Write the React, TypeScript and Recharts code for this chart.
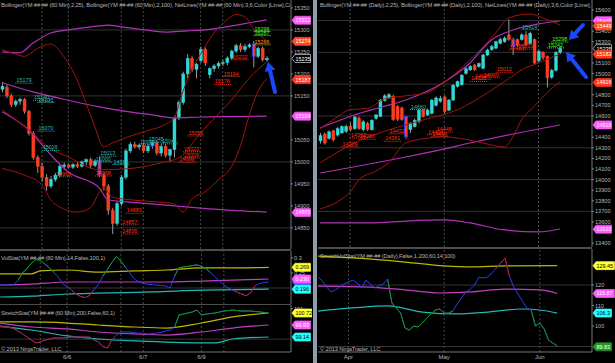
import React from 'react';
import { ComposedChart, Bar, Line, XAxis, YAxis, ReferenceLine, ReferenceDot } from 'recharts';

// ---------- 60 min chart (left) ----------
const hourOpen = [15165, 15170, 15150, 15130, 15138, 15142, 15115, 15065, 15010, 14990, 14965, 14945, 14960, 14970, 14990, 14993, 14988, 14994, 14990, 15000, 15005, 14992, 15002, 14970, 14945, 14890, 14860, 14905, 14965, 15025, 15040, 15034, 15038, 15025, 15036, 15045, 15020, 15035, 15015, 15028, 15100, 15135, 15200, 15235, 15210, 15230, 15256, 15198, 15212, 15218, 15224, 15226, 15236, 15252, 15264, 15255, 15262, 15268, 15240, 15258, 15232];
const hourHigh = [15182, 15175, 15155, 15142, 15146, 15145, 15118, 15070, 15015, 14998, 14972, 14968, 14975, 14995, 14998, 14996, 14997, 14999, 15003, 15008, 15010, 15006, 15010, 14975, 14950, 14895, 14910, 14970, 15030, 15045, 15046, 15042, 15044, 15040, 15048, 15048, 15040, 15040, 15030, 15105, 15140, 15205, 15245, 15240, 15225, 15262, 15260, 15215, 15222, 15228, 15232, 15240, 15255, 15268, 15270, 15268, 15270, 15275, 15262, 15262, 15240];
const hourLow = [15158, 15145, 15125, 15125, 15130, 15110, 15060, 15005, 14975, 14955, 14935, 14940, 14955, 14965, 14982, 14985, 14984, 14986, 14987, 14993, 14985, 14988, 14965, 14935, 14880, 14836, 14855, 14900, 14960, 15020, 15030, 15028, 15020, 15020, 15030, 15015, 15012, 15010, 15000, 15010, 15095, 15130, 15190, 15205, 15190, 15225, 15218, 15190, 15205, 15212, 15218, 15220, 15232, 15248, 15250, 15250, 15258, 15215, 15236, 15228, 15228];
const hourClose = [15172, 15150, 15130, 15138, 15142, 15115, 15065, 15010, 14990, 14965, 14945, 14960, 14970, 14990, 14993, 14988, 14994, 14990, 15000, 15005, 14992, 15002, 14970, 14945, 14890, 14860, 14905, 14965, 15025, 15040, 15034, 15038, 15025, 15036, 15045, 15020, 15035, 15015, 15028, 15100, 15135, 15200, 15235, 15210, 15222, 15256, 15225, 15212, 15218, 15224, 15226, 15236, 15252, 15264, 15255, 15262, 15266, 15240, 15258, 15232, 15235];
const hourBlueEdge = [22, 34, 57];

// Bollinger(2,25) red and Bollinger(2,100) magenta, as [bar, value]
const hourUpper25: [number, number][] = [[0, 15255], [3, 15245], [5, 15240], [8, 15258], [11, 15268], [14, 15239], [17, 15186], [19, 15134], [21, 15080], [23, 15034], [25, 15043], [28, 15055], [33, 15071], [37, 15085], [39, 15100], [41, 15160], [43, 15210], [45, 15245], [48, 15293], [51, 15323], [53, 15335], [55, 15330], [57, 15303], [60, 15275]];
const hourMid25: [number, number][] = [[0, 15118], [6, 15073], [11, 15030], [15, 15011], [22, 14982], [30, 14986], [36, 14998], [40, 15009], [45, 15066], [52, 15141], [56, 15190], [60, 15228]];
const hourLower25: [number, number][] = [[0, 14985], [5, 14970], [9, 14948], [11, 14914], [14, 14893], [17, 14886], [20, 14896], [22, 14930], [23, 14941], [25, 14920], [29, 14914], [35, 14909], [39, 14905], [41, 14886], [43, 14915], [46, 14932], [49, 14959], [52, 14989], [54, 15035], [56, 15105], [58, 15160], [60, 15189]];
const hourUpper100: [number, number][] = [[0, 15250], [4, 15248], [7, 15270], [11, 15293], [15, 15300], [22, 15309], [24, 15311], [27, 15307], [34, 15298], [37, 15295], [42, 15298], [46, 15300], [52, 15309], [57, 15318], [60, 15323]];
const hourMid100: [number, number][] = [[0, 15180], [7, 15159], [15, 15140], [22, 15125], [30, 15112], [34, 15107], [39, 15100], [45, 15102], [52, 15103], [60, 15104]];
const hourLower100: [number, number][] = [[0, 15114], [6, 15073], [11, 15016], [15, 14977], [22, 14941], [24, 14914], [31, 14907], [38, 14901], [45, 14895], [52, 14890], [60, 14886]];

// VolStat
const hourVol = [0.210, 0.211, 0.210, 0.210, 0.225, 0.250, 0.265, 0.282, 0.295, 0.292, 0.280, 0.268, 0.252, 0.237, 0.215, 0.205, 0.193, 0.180, 0.172, 0.168, 0.175, 0.195, 0.212, 0.240, 0.262, 0.285, 0.305, 0.290, 0.270, 0.250, 0.230, 0.220, 0.215, 0.213, 0.211, 0.210, 0.208, 0.207, 0.200, 0.240, 0.268, 0.270, 0.272, 0.275, 0.277, 0.273, 0.265, 0.252, 0.238, 0.222, 0.210, 0.200, 0.193, 0.186, 0.180, 0.174, 0.185, 0.208, 0.215, 0.218, 0.220];
const hourVolGreen = [[4, 12], [23, 28], [39, 47]];
const hourVolRed = [[16, 21], [52, 57]];
const hourVolYellow: [number, number][] = [[0, 0.247], [7, 0.247], [9, 0.257], [15, 0.260], [22, 0.253], [30, 0.257], [37, 0.260], [45, 0.267], [52, 0.267], [60, 0.269]];
const hourVolMagenta: [number, number][] = [[0, 0.210], [7, 0.213], [15, 0.220], [30, 0.220], [37, 0.220], [45, 0.223], [52, 0.226], [60, 0.230]];
const hourVolCyan: [number, number][] = [[0, 0.170], [7, 0.173], [15, 0.180], [22, 0.183], [34, 0.187], [45, 0.193], [60, 0.196]];

// StretchStat
const hourStretch = [99.82, 99.80, 99.78, 99.70, 99.54, 99.35, 99.14, 98.95, 98.75, 98.81, 98.94, 99.00, 99.08, 99.08, 99.08, 99.10, 99.14, 99.14, 99.14, 99.14, 99.14, 98.94, 98.81, 98.50, 98.42, 98.94, 99.27, 99.47, 99.47, 99.47, 99.42, 99.40, 99.38, 99.34, 99.36, 99.40, 99.45, 99.54, 99.60, 99.80, 100.59, 100.65, 100.72, 100.79, 100.92, 100.59, 100.65, 100.68, 100.72, 100.78, 100.85, 100.88, 100.92, 100.88, 100.85, 100.85, 100.85, 100.82, 100.79, 100.75, 100.72];
const hourStretchGreen = [[39, 60]];
const hourStretchRed = [[0, 25]];
const hourStrYellow: [number, number][] = [[0, 100.13], [7, 100.13], [15, 100.06], [22, 99.93], [30, 99.80], [37, 99.73], [45, 100.06], [52, 100.46], [60, 100.72]];
const hourStrMagenta: [number, number][] = [[0, 100.06], [7, 99.80], [15, 99.67], [22, 99.47], [30, 99.34], [37, 99.27], [45, 99.47], [52, 99.73], [60, 99.93]];
const hourStrCyan: [number, number][] = [[0, 99.86], [7, 99.60], [15, 99.21], [22, 99.01], [30, 98.88], [37, 98.81], [48, 98.75], [52, 99.01], [60, 99.14]];

const hourNetLines = [
  { i: 3, t: '15179', k: 't' }, { i: 7, t: '15140', k: 't' }, { i: 8, t: '15135', k: 't' }, { i: 8, t: '15070', k: 't' },
  { i: 9, t: '15026', k: 't' }, { i: 12, t: '14966', k: 'r' }, { i: 22, t: '15013', k: 't' }, { i: 21, t: '15000', k: 't' },
  { i: 25, t: '14994', k: 't' }, { i: 21, t: '14968', k: 'r' }, { i: 28, t: '14883', k: 'r' }, { i: 27, t: '14857', k: 'r' },
  { i: 27, t: '14836', k: 'r' }, { i: 31, t: '15039', k: 't' }, { i: 33, t: '15045', k: 't' }, { i: 36, t: '15041', k: 't' },
  { i: 42, t: '15059', k: 'r' }, { i: 41, t: '15023', k: 'r' }, { i: 41, t: '15009', k: 'r' }, { i: 40, t: '14999', k: 'r' },
  { i: 48, t: '15176', k: 'r' }, { i: 50, t: '15194', k: 'r' }, { i: 52, t: '15232', k: 'r' },
  { i: 57, t: '15296', k: 'g' }, { i: 57, t: '15287', k: 'g' }, { i: 57, t: '15266', k: 'o' },
];

const hourPriceTicks = [14850, 14900, 14950, 15000, 15050, 15100, 15150, 15200, 15250, 15300, 15350];
const hourPriceGrid = [14850, 15000, 15150, 15300];
const hourVolTicks = [0.3, 0.25, 0.2];
const hourStrTicks = [101, 100, 99];
const hourTickIdx = [15, 32, 45];
const hourTickText = ['6/6', '6/7', '6/9'];
const hourGridIdx = [9, 15, 27, 32, 45, 50];

const hourPriceTags = [
  { text: '15322', bg: '#ff5cff', fg: '#fff0ff' },
  { text: '15274', bg: '#ff4a2a', fg: '#ffffff' },
  { text: '15235', bg: '#000000', fg: '#ffffff', edge: '#d8d8d8' },
  { text: '15187', bg: '#ff3a1a', fg: '#ffffff' },
  { text: '15104', bg: '#ff5cff', fg: '#fff0ff' },
  { text: '14885', bg: '#ff5cff', fg: '#fff0ff' },
];
const hourVolTags = [
  { text: '0.269', bg: '#ffff33', fg: '#000000' },
  { text: '0.222', bg: '#3355ff', fg: '#ffffff' },
  { text: '0.230', bg: '#ff5cff', fg: '#ffffff' },
  { text: '0.196', bg: '#22ffff', fg: '#000000' },
];
const hourStrTags = [
  { text: '100.72', bg: '#ffff33', fg: '#000000' },
  { text: '99.93', bg: '#ff5cff', fg: '#ffffff' },
  { text: '99.14', bg: '#22ffff', fg: '#000000' },
];

// ---------- Daily chart (right) ----------
const dayOpen = [14365, 14430, 14390, 14460, 14420, 14440, 14455, 14505, 14480, 14580, 14470, 14530, 14470, 14578, 14595, 14745, 14770, 14785, 14690, 14675, 14595, 14470, 14500, 14545, 14655, 14610, 14625, 14700, 14740, 14780, 14655, 14750, 14880, 14895, 15000, 15035, 15080, 15065, 15050, 15175, 15225, 15240, 15285, 15300, 15365, 15320, 15320, 15320, 15365, 15285, 15320, 15120, 15200, 15160, 14965, 15030, 15200];
const dayHigh = [14440, 14445, 14465, 14470, 14495, 14510, 14520, 14540, 14600, 14595, 14560, 14545, 14570, 14620, 14760, 14805, 14815, 14800, 14700, 14690, 14600, 14545, 14575, 14670, 14665, 14670, 14760, 14785, 14790, 14795, 14760, 14900, 14935, 14995, 15060, 15080, 15090, 15105, 15185, 15235, 15270, 15310, 15340, 15350, 15510, 15340, 15330, 15380, 15400, 15395, 15330, 15225, 15210, 15170, 15045, 15210, 15250];
const dayLow = [14340, 14330, 14375, 14360, 14405, 14430, 14440, 14455, 14470, 14470, 14455, 14460, 14460, 14565, 14590, 14735, 14760, 14555, 14555, 14555, 14385, 14440, 14490, 14530, 14585, 14600, 14615, 14690, 14725, 14625, 14645, 14740, 14870, 14885, 14990, 15025, 15025, 15055, 15040, 15165, 15215, 15230, 15275, 15290, 15310, 15175, 15250, 15310, 15260, 15275, 15090, 15100, 15130, 14870, 14950, 15020, 15185];
const dayClose = [14415, 14345, 14450, 14375, 14480, 14500, 14500, 14470, 14590, 14480, 14545, 14470, 14560, 14610, 14750, 14790, 14800, 14565, 14570, 14565, 14405, 14530, 14560, 14655, 14595, 14655, 14750, 14770, 14765, 14640, 14750, 14890, 14925, 14985, 15045, 15065, 15035, 15095, 15175, 15222, 15255, 15300, 15320, 15335, 15320, 15255, 15270, 15365, 15270, 15380, 15100, 15210, 15150, 14960, 15030, 15200, 15235];
const dayBlueEdge = [20, 45];

const dayUpper25: [number, number][] = [[0, 14480], [4, 14590], [7, 14660], [11, 14670], [15, 14760], [20, 14790], [25, 14820], [29, 14920], [35, 15128], [41, 15383], [44, 15525], [49, 15562], [52, 15525], [56, 15458]];
const dayMid25: [number, number][] = [[0, 14157], [8, 14345], [16, 14468], [24, 14562], [32, 14657], [39, 14817], [44, 14950], [47, 15034], [51, 15100], [56, 15185]];
const dayLower25: [number, number][] = [[0, 13723], [4, 13789], [7, 13883], [9, 13996], [13, 14080], [16, 14157], [20, 14345], [25, 14390], [29, 14402], [34, 14380], [38, 14345], [43, 14308], [45, 14400], [47, 14560], [50, 14690], [53, 14820], [56, 14921]];
const dayUpper100: [number, number][] = [[0, 14487], [8, 14609], [14, 14680], [20, 14751], [29, 14921], [35, 15100], [40, 15317], [45, 15411], [51, 15468], [56, 15496]];
const dayMid100: [number, number][] = [[0, 14062], [10, 14135], [20, 14213], [28, 14280], [35, 14345], [45, 14430], [56, 14515]];
const dayLower100: [number, number][] = [[0, 13591], [12, 13591], [20, 13609], [29, 13619], [35, 13591], [43, 13525], [51, 13506], [56, 13534]];

// StretchVolStat
const dayStat = [123.9, 122.0, 119.0, 116.6, 117.6, 119.0, 120.5, 121.5, 122.4, 121.0, 118.5, 122.4, 120.5, 118.5, 119.5, 120.5, 122.9, 111.2, 108.8, 106.3, 99.0, 98.0, 100.0, 99.5, 101.5, 103.9, 105.9, 107.8, 108.3, 106.3, 106.3, 107.3, 110.7, 113.7, 116.6, 118.0, 120.0, 123.9, 123.4, 123.9, 125.9, 128.3, 130.7, 133.2, 124.4, 119.0, 115.6, 112.2, 108.8, 107.8, 100.0, 101.5, 98.5, 93.2, 91.7, 90.2];
const dayStatGreen = [[16, 31], [49, 55]];
const dayStatRed = [[41, 44]];
const dayStatYellow: [number, number][] = [[0, 134.1], [8, 133.2], [20, 131.2], [29, 129.3], [35, 128.8], [43, 129.3], [55, 129.45]];
const dayStatMagenta: [number, number][] = [[0, 119.5], [12, 119.0], [20, 117.6], [28, 116.1], [35, 116.6], [43, 118.0], [51, 117.6], [55, 115.87]];
const dayStatCyan: [number, number][] = [[0, 107.3], [8, 108.8], [16, 109.8], [24, 106.8], [32, 105.9], [39, 106.8], [47, 108.3], [51, 107.8], [55, 106.3]];

const dayNetLines = [
  { i: 5, t: '14309', k: 'r' }, { i: 7, t: '14392', k: 'r' }, { i: 9, t: '14380', k: 'r' }, { i: 15, t: '14361', k: 'r' },
  { i: 16, t: '14432', k: 'r' }, { i: 25, t: '14424', k: 'r' }, { i: 26, t: '14406', k: 'r' }, { i: 27, t: '14448', k: 'r' },
  { i: 21, t: '14660', k: 't' }, { i: 35, t: '14926', k: 'r' }, { i: 36, t: '14945', k: 'r' }, { i: 38, t: '14960', k: 'r' },
  { i: 41, t: '15012', k: 'r' }, { i: 44, t: '15223', k: 'r' }, { i: 46, t: '15231', k: 'r' }, { i: 47, t: '15414', k: 't' },
  { i: 54, t: '15298', k: 'g' }, { i: 53, t: '15242', k: 'g' },
];

const dayPriceTicks = [13400, 13500, 13600, 13700, 13800, 13900, 14000, 14100, 14200, 14300, 14400, 14500, 14600, 14700, 14800, 14900, 15000, 15100, 15200, 15300, 15400, 15500, 15600];
const dayPriceGrid = [13700, 14000, 14300, 14600, 14900, 15200, 15500];
const dayStatTicks = [130, 120, 110, 100, 90];
const dayStatGrid = [120, 90];
const dayTickIdx = [7, 29, 51];
const dayTickText = ['Apr', 'May', 'Jun'];

const dayPriceTags = [
  { text: '15499', bg: '#ff5cff', fg: '#fff0ff' },
  { text: '15449', bg: '#ff4a2a', fg: '#ffffff' },
  { text: '15235', bg: '#000000', fg: '#ffffff', edge: '#d8d8d8' },
  { text: '15183', bg: '#ff3a1a', fg: '#ffffff' },
  { text: '14916', bg: '#ff3a1a', fg: '#ffffff' },
  { text: '14516', bg: '#ff5cff', fg: '#fff0ff' },
  { text: '13532', bg: '#ff5cff', fg: '#fff0ff' },
];
const dayStatTags = [
  { text: '129.45', bg: '#ffff33', fg: '#000000' },
  { text: '115.87', bg: '#ff5cff', fg: '#ffffff' },
  { text: '106.3', bg: '#22ffff', fg: '#000000' },
  { text: '89.83', bg: '#229922', fg: '#ffffff' },
];

// ---------- helpers ----------
const UP = '#33d8d8';
const DOWN = '#ff3c1e';
const BAND_RED = '#a3150a';
const BAND_MAG = '#b030b8';
const YEL = '#b9b900';
const MAG = '#c040c0';
const CYN = '#22b8b8';
const STAT_BLUE = '#2a3ff0';
const STAT_GREEN = '#139a13';
const STAT_RED = '#c81818';
const TXT = '#b4b4b4';
const NET_COLORS: Record<string, string> = { t: '#2fb8b0', r: '#ff2c12', g: '#44ff22', o: '#ffa000' };

type Row = Record<string, any>;
type Tag = { text: string; bg: string; fg: string; edge?: string };

const inZones = (i: number, zones: number[][]) => zones.some(([a, b]) => i >= a && i <= b);

function place(rows: Row[], key: string, pairs: [number, number][]) {
  pairs.forEach(([i, v]) => {
    rows[i][key] = v;
  });
}

function buildRows(slots: number, open: number[], high: number[], low: number[], close: number[]) {
  return Array.from({ length: slots }, (_, i) => {
    const row: Row = { i };
    if (i < close.length) {
      row.open = open[i];
      row.high = high[i];
      row.low = low[i];
      row.close = close[i];
      row.range = [low[i], high[i]];
    }
    return row;
  });
}

function placeStat(rows: Row[], key: string, vals: number[], green: number[][], red: number[][]) {
  vals.forEach((v, i) => {
    rows[i][key] = v;
    rows[i][key + 'G'] = inZones(i, green) ? v : null;
    rows[i][key + 'R'] = inZones(i, red) ? v : null;
  });
}

const hourRows = buildRows(66, hourOpen, hourHigh, hourLow, hourClose);
place(hourRows, 'up25', hourUpper25);
place(hourRows, 'mid25', hourMid25);
place(hourRows, 'lo25', hourLower25);
place(hourRows, 'up100', hourUpper100);
place(hourRows, 'mid100', hourMid100);
place(hourRows, 'lo100', hourLower100);
place(hourRows, 'vy', hourVolYellow);
place(hourRows, 'vm', hourVolMagenta);
place(hourRows, 'vc', hourVolCyan);
place(hourRows, 'sy', hourStrYellow);
place(hourRows, 'sm', hourStrMagenta);
place(hourRows, 'sc', hourStrCyan);
placeStat(hourRows, 'vol', hourVol, hourVolGreen, hourVolRed);
placeStat(hourRows, 'str', hourStretch, hourStretchGreen, hourStretchRed);

const dayRows = buildRows(64, dayOpen, dayHigh, dayLow, dayClose);
place(dayRows, 'up25', dayUpper25);
place(dayRows, 'mid25', dayMid25);
place(dayRows, 'lo25', dayLower25);
place(dayRows, 'up100', dayUpper100);
place(dayRows, 'mid100', dayMid100);
place(dayRows, 'lo100', dayLower100);
place(dayRows, 'sy', dayStatYellow);
place(dayRows, 'sm', dayStatMagenta);
place(dayRows, 'sc', dayStatCyan);
placeStat(dayRows, 'st', dayStat, dayStatGreen, dayStatRed);

function candleShape(blueEdge: number[]) {
  return (props: any) => {
    const { x, y, width, height, payload } = props;
    if (!payload || payload.open == null || !isFinite(y)) return <g />;
    const top = Math.min(y, y + height);
    const bot = Math.max(y, y + height);
    const span = payload.high - payload.low || 1;
    const toY = (v: number) => top + ((payload.high - v) / span) * (bot - top);
    const up = payload.close >= payload.open;
    const yo = toY(payload.open);
    const yc = toY(payload.close);
    const cx = x + width / 2;
    const fill = up ? UP : DOWN;
    const blue = blueEdge.includes(payload.i);
    return (
      <g>
        <line x1={cx} x2={cx} y1={top} y2={bot} stroke="#9c9c9c" strokeWidth={1} />
        <rect
          x={x}
          y={Math.min(yo, yc)}
          width={width}
          height={Math.max(1, Math.abs(yc - yo))}
          fill={fill}
          stroke={blue ? '#2040ff' : fill}
          strokeWidth={blue ? 0.9 : 0.4}
        />
      </g>
    );
  };
}

function axisTick(tags: Tag[], near: number) {
  return (props: any) => {
    const { x, y, payload } = props;
    const value = payload.value;
    const tag = tags.find((t) => Number(t.text) === value);
    if (tag) {
      const w = 5 + tag.text.length * 2.9;
      return (
        <g>
          <polygon
            points={`${x + 1},${y} ${x + 4},${y - 4} ${x + w},${y - 4} ${x + w},${y + 4} ${x + 4},${y + 4}`}
            fill={tag.bg}
            stroke={tag.edge ?? tag.bg}
            strokeWidth={0.7}
          />
          <text x={x + 4.5} y={y + 2} fontSize={5.4} fill={tag.fg}>
            {tag.text}
          </text>
        </g>
      );
    }
    if (tags.some((t) => Math.abs(Number(t.text) - value) < near)) return <g />;
    return (
      <g>
        <line x1={x} x2={x + 2} y1={y} y2={y} stroke="#8a8a8a" />
        <text x={x + 3} y={y + 2} fontSize={5.6} fill={TXT}>
          {value}
        </text>
      </g>
    );
  };
}

function xTick(text: string[], idx: number[]) {
  return (props: any) => {
    const { x, y, payload } = props;
    const k = idx.indexOf(payload.value);
    return (
      <text x={x} y={y + 7} textAnchor="middle" fontSize={6} fill={TXT}>
        {k >= 0 ? text[k] : ''}
      </text>
    );
  };
}

function netShape(text: string, color: string) {
  return (p: any) => (
    <g>
      <line x1={p.cx} x2={p.cx + 17} y1={p.cy} y2={p.cy} stroke={color} strokeDasharray="1 1" strokeWidth={1} />
      <text x={p.cx + 1} y={p.cy - 1} fontSize={5.4} fill={color}>
        {text}
      </text>
    </g>
  );
}

const M = { top: 0, right: 0, bottom: 0, left: 0 };

function grid(priceLines: number[], idx: number[]) {
  return [
    ...priceLines.map((v) => <ReferenceLine key={'h' + v} y={v} stroke="#343434" zIndex={-50} />),
    ...idx.map((i) => <ReferenceLine key={'v' + i} x={i} stroke="#4a4a4a" strokeDasharray="2 2" zIndex={-50} />),
  ];
}

function bandLine(key: string, color: string, width = 1) {
  return (
    <Line
      key={key}
      dataKey={key}
      stroke={color}
      strokeWidth={width}
      dot={false}
      activeDot={false}
      type="monotone"
      connectNulls
      isAnimationActive={false}
    />
  );
}

function statLines(key: string) {
  return [STAT_BLUE, STAT_GREEN, STAT_RED].map((color, k) => {
    const dk = key + ['', 'G', 'R'][k];
    return (
      <Line key={dk} dataKey={dk} stroke={color} strokeWidth={1} dot={false} activeDot={false} isAnimationActive={false} />
    );
  });
}

function Arrow({ x1, y1, x2, y2 }: { x1: number; y1: number; x2: number; y2: number }) {
  const dx = x2 - x1;
  const dy = y2 - y1;
  const len = Math.hypot(dx, dy);
  const ux = dx / len;
  const uy = dy / len;
  const hx = x2 - ux * 9;
  const hy = y2 - uy * 9;
  return (
    <g>
      <line x1={x1} y1={y1} x2={hx} y2={hy} stroke="#1a48ff" strokeWidth={4} strokeLinecap="round" />
      <polygon points={`${x2},${y2} ${hx - uy * 5.5},${hy + ux * 5.5} ${hx + uy * 5.5},${hy - ux * 5.5}`} fill="#1a48ff" />
    </g>
  );
}

const label = (top: number, left: number, width: number, text: string) => (
  <div
    style={{
      position: 'absolute',
      top,
      left,
      width,
      fontSize: 5.8,
      letterSpacing: -0.15,
      lineHeight: '8px',
      color: TXT,
      whiteSpace: 'nowrap',
      overflow: 'hidden',
    }}
  >
    {text}
  </div>
);

const line = (top: number, left: number, width: number, height: number, color = '#4c4c4c') => (
  <div style={{ position: 'absolute', top, left, width, height, background: color }} />
);

const yAxisCommon = {
  orientation: 'right' as const,
  allowDataOverflow: true,
  interval: 0 as const,
  tickLine: false,
  tickSize: 0,
  tickMargin: 0,
  axisLine: { stroke: '#777' },
};

export default function App() {
  return (
    <div
      style={{
        position: 'absolute',
        left: 0,
        top: 0,
        width: 615,
        height: 363,
        background: '#000',
        overflow: 'hidden',
        fontFamily: '"Liberation Sans", Arial, sans-serif',
      }}
    >
      {/* left: 60 min price */}
      <div style={{ position: 'absolute', left: 0, top: 0 }}>
        <ComposedChart width={312} height={249} data={hourRows} margin={M}>
          <XAxis dataKey="i" hide />
          <YAxis
            {...yAxisCommon}
            width={21}
            domain={[14802, 15368]}
            ticks={[...hourPriceTicks, ...hourPriceTags.map((t) => Number(t.text))]}
            tick={axisTick(hourPriceTags, 10)}
          />
          {grid(hourPriceGrid, hourGridIdx)}
          {bandLine('up100', BAND_MAG, 1.2)}
          {bandLine('mid100', BAND_MAG, 1.2)}
          {bandLine('lo100', BAND_MAG, 1.2)}
          {bandLine('up25', BAND_RED)}
          {bandLine('mid25', BAND_RED)}
          {bandLine('lo25', BAND_RED)}
          <Bar dataKey="range" barSize={3} shape={candleShape(hourBlueEdge)} activeBar={false} isAnimationActive={false} />
          {hourNetLines.map((n, k) => (
            <ReferenceDot key={k} x={n.i} y={Number(n.t)} r={0} shape={netShape(n.t, NET_COLORS[n.k])} />
          ))}
        </ComposedChart>
      </div>
      {/* left: VolStat */}
      <div style={{ position: 'absolute', left: 0, top: 251 }}>
        <ComposedChart width={312} height={53} data={hourRows} margin={M}>
          <XAxis dataKey="i" hide />
          <YAxis
            {...yAxisCommon}
            width={21}
            domain={[0.14667, 0.32333]}
            ticks={[...hourVolTicks, ...hourVolTags.map((t) => Number(t.text))]}
            tick={axisTick(hourVolTags, 0.015)}
          />
          {grid([0.2], hourGridIdx)}
          {bandLine('vy', YEL, 1.2)}
          {bandLine('vm', MAG, 1.2)}
          {bandLine('vc', CYN, 1.2)}
          {statLines('vol')}
        </ComposedChart>
      </div>
      {/* left: StretchStat */}
      <div style={{ position: 'absolute', left: 0, top: 305 }}>
        <ComposedChart width={312} height={58} data={hourRows} margin={M}>
          <XAxis
            dataKey="i"
            height={11}
            ticks={hourTickIdx}
            interval={0}
            tickLine={false}
            tickSize={0}
            tickMargin={0}
            axisLine={{ stroke: '#777' }}
            tick={xTick(hourTickText, hourTickIdx)}
          />
          <YAxis
            {...yAxisCommon}
            width={21}
            domain={[98.154, 101.246]}
            ticks={[...hourStrTicks, ...hourStrTags.map((t) => Number(t.text))]}
            tick={axisTick(hourStrTags, 0.2)}
          />
          {grid([99], hourGridIdx)}
          {bandLine('sy', YEL, 1.2)}
          {bandLine('sm', MAG, 1.2)}
          {bandLine('sc', CYN, 1.2)}
          {statLines('str')}
        </ComposedChart>
      </div>

      {/* right: daily price */}
      <div style={{ position: 'absolute', left: 318, top: 0 }}>
        <ComposedChart width={297} height={247} data={dayRows} margin={M}>
          <XAxis dataKey="i" hide />
          <YAxis
            {...yAxisCommon}
            width={23}
            domain={[13364, 15694]}
            ticks={[...dayPriceTicks, ...dayPriceTags.map((t) => Number(t.text))]}
            tick={axisTick(dayPriceTags, 40)}
          />
          {grid(dayPriceGrid, dayTickIdx)}
          {bandLine('up100', BAND_MAG, 1.2)}
          {bandLine('mid100', BAND_MAG, 1.2)}
          {bandLine('lo100', BAND_MAG, 1.2)}
          {bandLine('up25', BAND_RED)}
          {bandLine('mid25', BAND_RED)}
          {bandLine('lo25', BAND_RED)}
          <Bar dataKey="range" barSize={3} shape={candleShape(dayBlueEdge)} activeBar={false} isAnimationActive={false} />
          {dayNetLines.map((n, k) => (
            <ReferenceDot key={k} x={n.i} y={Number(n.t)} r={0} shape={netShape(n.t, NET_COLORS[n.k])} />
          ))}
        </ComposedChart>
      </div>
      {/* right: StretchVolStat */}
      <div style={{ position: 'absolute', left: 318, top: 249 }}>
        <ComposedChart width={297} height={114} data={dayRows} margin={M}>
          <XAxis
            dataKey="i"
            height={11}
            ticks={dayTickIdx}
            interval={0}
            tickLine={false}
            tickSize={0}
            tickMargin={0}
            axisLine={{ stroke: '#777' }}
            tick={xTick(dayTickText, dayTickIdx)}
          />
          <YAxis
            {...yAxisCommon}
            width={23}
            domain={[87.32, 137.56]}
            ticks={[...dayStatTicks, ...dayStatTags.map((t) => Number(t.text))]}
            tick={axisTick(dayStatTags, 2)}
          />
          {grid(dayStatGrid, dayTickIdx)}
          {bandLine('sy', YEL, 1.2)}
          {bandLine('sm', MAG, 1.2)}
          {bandLine('sc', CYN, 1.2)}
          {statLines('st')}
        </ComposedChart>
      </div>

      {/* panel separators and window divider */}
      {line(249, 0, 291, 2)}
      {line(304, 0, 291, 1)}
      {line(247, 318, 274, 2)}
      {line(0, 313, 4, 363, '#8e9cad')}

      {label(1, 1, 289, 'Bollinger(YM ##-## (60 Min),2,25), Bollinger(YM ##-## (60 Min),2,100), NetLines(YM ##-## (60 Min),3,6,Color [Lime],Color [DarkRed])')}
      {label(254, 1, 289, 'VolStat(YM ##-## (60 Min),14,False,100,1)')}
      {label(309, 1, 289, 'StretchStat(YM ##-## (60 Min),200,False,60,1)')}
      {label(345, 1, 289, '© 2013 NinjaTrader, LLC')}
      {label(1, 320, 271, 'Bollinger(YM ##-## (Daily),2,25), Bollinger(YM ##-## (Daily),2,100), NetLines(YM ##-## (Daily),3,6,Color [Lime],Color [DarkRed])')}
      {label(252, 320, 271, 'StretchVolStat(YM ##-## (Daily),False,1,200,60,14,100)')}
      {label(345, 320, 271, '© 2013 NinjaTrader, LLC')}

      <svg width={615} height={363} style={{ position: 'absolute', left: 0, top: 0, pointerEvents: 'none' }}>
        <Arrow x1={275} y1={92} x2={268} y2={62} />
        <Arrow x1={583} y1={25} x2={569} y2={40} />
        <Arrow x1={586} y1={77} x2={566} y2={52} />
      </svg>
    </div>
  );
}
